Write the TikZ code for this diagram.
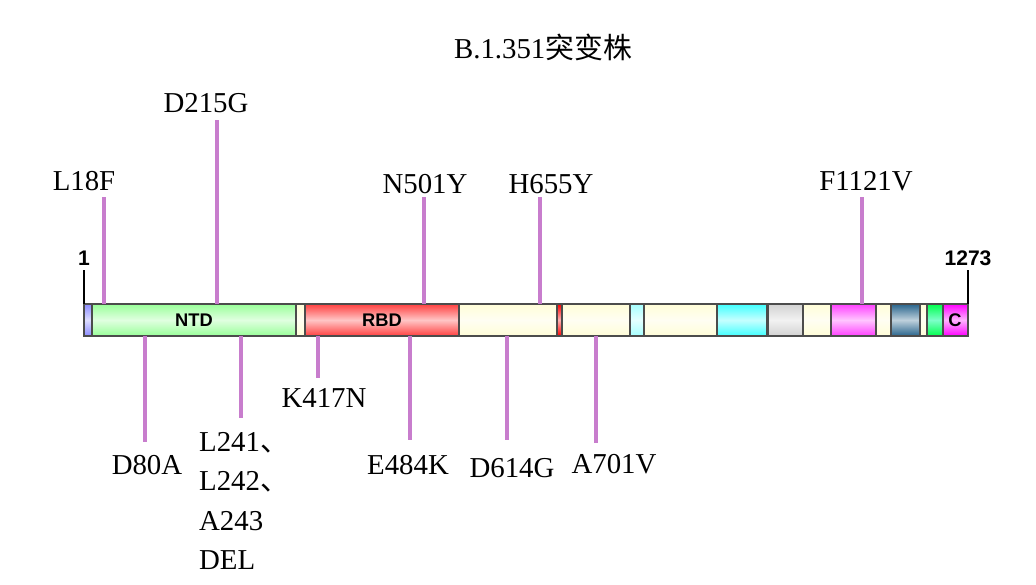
\documentclass[tikz,border=0pt]{standalone}
\usepackage{fontspec}
\setmainfont{Liberation Serif}
\newfontfamily\cjk{Noto Sans CJK SC}
\newfontfamily\bold{Liberation Sans}
\usetikzlibrary{positioning}

\definecolor{cream}{RGB}{255,253,215}
\definecolor{mut}{RGB}{200,125,205}
\definecolor{steel}{RGB}{40,100,140}
\tikzset{
  seg/.style={draw=black!70, line width=0.4pt, top color=#1, bottom color=#1, middle color=white!70!#1},
  mline/.style={draw=mut, line width=1.4pt},
  lab/.style={font=\fontsize{8.2}{9.4}\selectfont, inner sep=0pt},
  dom/.style={font=\bold\bfseries\fontsize{5.2}{6}\selectfont}
}

\begin{document}
\begin{tikzpicture}[x=0.01cm, y=-0.01cm]
  \useasboundingbox (0,0) rectangle (1036,585);
  \node[lab] (title) at (543,47) {B.1.351{\cjk 突变株}};
  % the protein bar
  \foreach \a/\b/\c in {84/92/blue!45,92/296/green!40,296/305/cream,305/459/red!75,
      459/557/cream,557/562/red,562/630/cream,630/644/cyan!35,644/717/cream,
      717/767/cyan!75,768/803/gray!35,803/831/cream,831/876/magenta!75,876/891/cream,
      891/920/steel,920/927/cream,927/943/green!70!cyan,943/968/magenta}
    \draw[seg=\c] (\a,304) rectangle (\b,336);
  \node[dom] (ntd) at (194,320) {NTD};
  \node[dom] (rbd) at (382,320) {RBD};
  \node[dom] (ctd) at (955,320) {C};
  % end ticks
  \coordinate (s0) at (84,304);
  \coordinate (s1) at (968,304);
  \draw (s0) -- ++(0,-34) node[above, inner sep=1pt, font=\bold\bfseries\fontsize{6}{7}\selectfont] (n1) {1};
  \draw (s1) -- ++(0,-34) node[above, inner sep=1pt, font=\bold\bfseries\fontsize{6}{7}\selectfont] (n2) {1273};
  % mutations above
  \foreach \x/\t/\s in {104/197/1, 217/120/2, 424/197/3, 540/197/4, 862/197/5} {
    \coordinate (up\s) at (\x,304);
    \draw[mline] (up\s) -- (\x,\t);
  }
  \node[lab] (l18f) at (84,181) {L18F};
  \node[lab] (d215g) at (206,103) {D215G};
  \node[lab] (n501y) at (425,184) {N501Y};
  \node[lab] (h655y) at (551,184) {H655Y};
  \node[lab] (f1121v) at (866,181) {F1121V};
  % mutations below
  \foreach \x/\t/\s in {145/442/1, 241/418/2, 318/378/3, 410/440/4, 507/440/5, 596/443/6} {
    \coordinate (dn\s) at (\x,336);
    \draw[mline] (dn\s) -- (\x,\t);
  }
  \node[lab] (d80a) at (147,465) {D80A};
  \node[lab, align=left, font=\fontsize{8.2}{11.2}\selectfont] (del) at (244,501) {L241{\cjk 、}\\L242{\cjk 、}\\A243\\DEL};
  \node[lab] (k417n) at (324,398) {K417N};
  \node[lab] (e484k) at (408,465) {E484K};
  \node[lab] (d614g) at (512,468) {D614G};
  \node[lab] (a701v) at (614,464) {A701V};
\end{tikzpicture}
\end{document}
